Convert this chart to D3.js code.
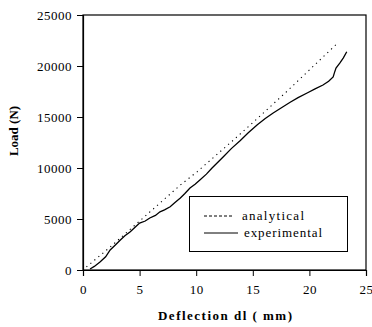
<!DOCTYPE html>
<html><head><meta charset="utf-8">
<script src="https://cdn.jsdelivr.net/npm/d3@7"></script>
<style>
html,body{margin:0;padding:0;background:#fff;}
svg{display:block;font-family:"Liberation Serif","Times New Roman",serif;}
</style></head>
<body>
<svg id="c" width="372" height="327"></svg>
<script>
const xTicks = [0, 5, 10, 15, 20, 25];
const yTicks = [0, 5000, 10000, 15000, 20000, 25000];
const seriesNames = ["analytical", "experimental"];
const analyticalX = [0.3, 2.4, 8.6, 10.1, 13.25, 15.4, 18.0, 22.5];
const analyticalY = [300, 2250, 8330, 9650, 12700, 14850, 17500, 22250];
const experimentalX = [0.62, 1.0, 1.5, 2.0, 2.4, 2.9, 3.3, 3.7, 4.15, 4.6, 5.0, 5.5, 5.9, 6.4, 6.8, 7.2, 7.7, 8.1, 8.6, 9.0, 9.45, 9.9, 10.3, 10.9, 11.4, 12.4, 13.1, 13.9, 14.6, 15.4, 16.1, 16.8, 17.6, 18.3, 19.0, 19.8, 20.5, 21.2, 21.7, 22.1, 22.2, 22.35, 22.7, 23.0, 23.3];
const experimentalY = [100, 350, 780, 1300, 1960, 2500, 2940, 3350, 3730, 4200, 4600, 4800, 5100, 5350, 5700, 5900, 6200, 6600, 7060, 7500, 8040, 8400, 8800, 9400, 10000, 11100, 11900, 12700, 13450, 14250, 14850, 15400, 15950, 16450, 16900, 17350, 17750, 18140, 18500, 18920, 19300, 19800, 20300, 20800, 21400];

const svg = d3.select("#c");
const L = 83, R = 366, T = 15, B = 270;
const x = d3.scaleLinear().domain([0, 25]).range([L, R]);
const y = d3.scaleLinear().domain([0, 25000]).range([B, T]);

svg.append("rect").attr("x", L).attr("y", T).attr("width", R - L).attr("height", B - T)
  .attr("fill", "none").attr("stroke", "#000").attr("stroke-width", 1.2);

const xAxis = svg.append("g").attr("transform", `translate(0,${B})`)
  .call(d3.axisBottom(x).tickValues(xTicks).tickSize(6).tickPadding(9).tickFormat(d3.format("d")));
const yAxis = svg.append("g").attr("transform", `translate(${L},0)`)
  .call(d3.axisLeft(y).tickValues(yTicks).tickSize(6).tickPadding(5).tickFormat(d3.format("d")));
[xAxis, yAxis].forEach(a => {
  a.select(".domain").attr("stroke", "#000").attr("stroke-width", 1.2);
  a.selectAll(".tick line").attr("stroke", "#000").attr("stroke-width", 1);
  a.selectAll("text").attr("font-family", "'Liberation Serif', serif").attr("font-size", 13)
    .attr("fill", "#000").style("letter-spacing", "0.5px");
});

const line = d3.line().x(d => x(d[0])).y(d => y(d[1]));
const aData = analyticalX.map((v, i) => [v, analyticalY[i]]);
const eData = experimentalX.map((v, i) => [v, experimentalY[i]]);
svg.append("path").datum(aData).attr("d", line).attr("fill", "none")
  .attr("stroke", "#000").attr("stroke-width", 1.1).attr("stroke-dasharray", "1.2,4");
svg.append("path").datum(eData).attr("d", line).attr("fill", "none")
  .attr("stroke", "#000").attr("stroke-width", 1.3);

svg.append("text").attr("x", 225).attr("y", 320).attr("text-anchor", "middle")
  .attr("font-size", 13).attr("font-weight", "bold").attr("textLength", 134).attr("lengthAdjust", "spacing")
  .text("Deflection dl ( mm)");
svg.append("text").attr("transform", "translate(18,131) rotate(-90)").attr("text-anchor", "middle")
  .attr("font-size", 13).attr("font-weight", "bold").text("Load (N)");

const lg = svg.append("g");
lg.append("rect").attr("x", 189.5).attr("y", 196.5).attr("width", 158).attr("height", 55)
  .attr("fill", "#fff").attr("stroke", "#000").attr("stroke-width", 1);
const legY = [216, 233];
const legEnd = [233, 238];
const legTx = [242, 244];
const legLen = [62, 78];
seriesNames.forEach((n, i) => {
  lg.append("line").attr("x1", 204).attr("x2", legEnd[i]).attr("y1", legY[i]).attr("y2", legY[i])
    .attr("stroke", "#000").attr("stroke-width", 1)
    .attr("stroke-dasharray", i === 0 ? "3,2" : null);
  lg.append("text").attr("x", legTx[i]).attr("y", legY[i] + 4).attr("font-size", 13)
    .attr("textLength", legLen[i]).attr("lengthAdjust", "spacing").text(n);
});
</script>
</body></html>
